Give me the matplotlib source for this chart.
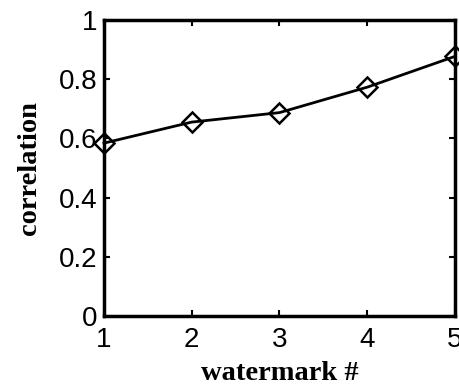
import numpy as np
import matplotlib.pyplot as plt

# watermark index vs correlation
watermark = [1, 2, 3, 4, 5]
correlation = [0.584, 0.655, 0.687, 0.773, 0.877]

xticks = [1, 2, 3, 4, 5]
yticks = [0, 0.2, 0.4, 0.6, 0.8, 1]
yticklabels = ['0', '0.2', '0.4', '0.6', '0.8', '1']

fig = plt.figure(figsize=(4.6, 3.92), dpi=100)
ax = fig.add_axes([0.226, 0.194, 0.763, 0.755])

ax.plot(watermark, correlation, color='black', lw=2, marker='D', ms=10,
        mfc='none', mec='black', mew=1.8, clip_on=False)

ax.set_xlim(1, 5)
ax.set_ylim(0, 1)
ax.set_xticks(xticks)
ax.set_yticks(yticks)
ax.set_yticklabels(yticklabels)
ax.tick_params(direction='in', length=4, width=1.5, top=True, right=True,
               labelsize=20)
ax.tick_params(axis='x', pad=8)
ax.tick_params(axis='y', pad=5)
for lab in ax.get_xticklabels() + ax.get_yticklabels():
    lab.set_family('Liberation Sans')
for s in ax.spines.values():
    s.set_linewidth(2.5)

ax.set_xlabel('watermark #', fontsize=20.5, fontweight='bold', family='Liberation Serif', labelpad=6)
ax.set_ylabel('correlation', fontsize=20.5, fontweight='bold', family='Liberation Serif', labelpad=12)

fig.savefig('out.png', dpi=100)
